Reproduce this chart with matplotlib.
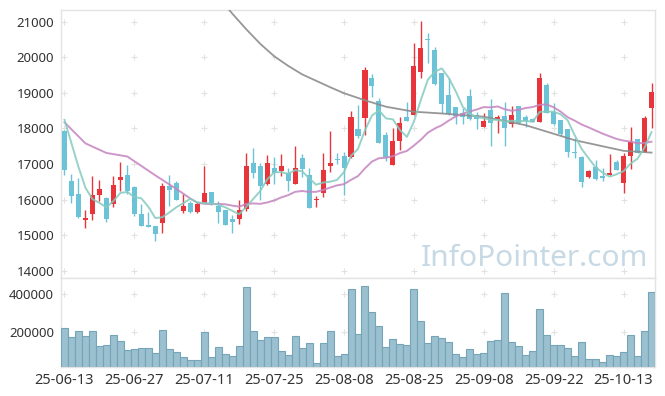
import matplotlib
matplotlib.use("Agg")
import matplotlib.pyplot as plt
import numpy as np
import pandas as pd

plt.rcParams['font.family'] = ['Noto Sans', 'DejaVu Sans']

# trading days (KRX holidays removed)
holidays = ['2025-08-15', '2025-10-03', '2025-10-06', '2025-10-07', '2025-10-08', '2025-10-09']
dates = pd.bdate_range('2025-06-13', '2025-10-17', freq='C', holidays=holidays)

opens = [17930, 16520, 16150, 15420, 15600, 16140, 16040, 15880, 16550, 16690,
         16350, 15590, 15290, 15260, 15350, 16380, 16470, 15680, 15910, 15660,
         15890, 16210, 15820, 15710, 15460, 15460, 15740, 17020, 16950, 16430,
         16880, 16810, 16760, 16430, 17170, 16690, 15990, 16190, 16950, 17140,
         17225, 17190, 17980, 18290, 19410, 18770, 17810, 16980, 17660, 18330,
         18380, 19590, 20510, 20200, 19550, 18940, 18590, 18430, 18910, 18380,
         18050, 18520, 18260, 18350, 18120, 18630, 18310, 18260, 18190, 19220,
         18470, 18240, 17980, 17340, 17190, 16630, 16910, 16640, 16690, 17070,
         16470, 17230, 17690, 17350, 18570]
highs = [17950, 16720, 16600, 15710, 16660, 16540, 16080, 16660, 17050, 16970,
         16380, 15880, 15640, 15260, 16470, 16690, 16520, 16150, 15960, 15930,
         16950, 16220, 15960, 15710, 15570, 15990, 17300, 17440, 17020, 17250,
         17190, 17270, 16900, 17510, 17280, 16880, 16100, 17300, 17930, 17300,
         17350, 18500, 18650, 19740, 19530, 18860, 17910, 18000, 18330, 18750,
         20410, 21020, 20670, 20300, 19560, 19410, 18600, 18570, 19110, 18470,
         18420, 18820, 18380, 18750, 18640, 18640, 18380, 18280, 19550, 19290,
         18710, 18250, 17990, 17720, 17230, 16840, 17110, 16900, 17270, 17110,
         17300, 18050, 17710, 18360, 19270]
lows = [16700, 15900, 15470, 15210, 15430, 15960, 15380, 15800, 16250, 16160,
        15540, 15260, 15220, 14840, 15050, 15830, 15980, 15610, 15610, 15610,
        15890, 15850, 15350, 15290, 15050, 15310, 15690, 16600, 15990, 16420,
        16430, 16660, 16240, 16430, 16640, 15760, 15780, 16080, 16770, 17000,
        16130, 17180, 17720, 17810, 18890, 17590, 17090, 16970, 17390, 18210,
        18370, 19430, 19850, 19230, 18420, 18390, 18120, 18120, 18250, 17980,
        18040, 17510, 17860, 17510, 18050, 18140, 18050, 18170, 18180, 18420,
        18110, 17800, 17190, 17160, 16340, 16610, 16560, 16520, 16680, 16820,
        16190, 16850, 17310, 17340, 18000]
closes = [16830, 16100, 15520, 15490, 16130, 16300, 15460, 16410, 16640, 16250,
          15600, 15270, 15230, 15040, 16380, 16270, 15990, 15820, 15650, 15875,
          16190, 15910, 15650, 15290, 15380, 15710, 16940, 16760, 16390, 17020,
          16740, 16940, 16530, 16900, 16870, 15770, 16020, 16830, 17020, 17120,
          16880, 18310, 17790, 19640, 19190, 17600, 17190, 17650, 18140, 18220,
          19760, 20250, 20490, 19240, 18700, 18400, 18360, 18330, 18260, 18260,
          18210, 18160, 18310, 18020, 18380, 18140, 18210, 18180, 19410, 18430,
          18120, 17840, 17350, 17320, 16490, 16800, 16570, 16620, 16740, 16830,
          17230, 17630, 17320, 18280, 19030]
volumes = [219600, 171900, 203700, 177200, 203700, 124100, 129400, 182500, 152300, 104500,
           108200, 113500, 113500, 87000, 209000, 108200, 92300, 65800, 51500, 51500,
           198400, 65800, 118800, 81700, 71100, 124100, 437100, 203700, 156000, 171900,
           171900, 97600, 76400, 177200, 113500, 140000, 34000, 140000, 203700, 71100,
           81700, 426500, 187800, 442400, 304500, 230200, 118800, 161300, 134700, 129400,
           426500, 256800, 140000, 177200, 166600, 145400, 81700, 65800, 108200, 81700,
           87000, 150700, 156000, 405300, 145400, 124100, 76400, 97600, 320400, 182500,
           129400, 129400, 113500, 71100, 145400, 55200, 55200, 39300, 76400, 71100,
           92300, 182500, 71100, 203700, 410600]

# moving-average values before the window is full
ma5_head = [18240, 17580, 16920, 16330]
ma20_head_idx = [0, 3, 6, 9, 13, 16, 18]
ma20_head = [18170, 17580, 17310, 17210, 16680, 16300, 16030]
# long moving average (grey)
ma_long_idx = [20, 22, 24, 26, 28, 30, 32, 34, 36, 38, 40, 43, 46, 50, 54, 60, 66, 73, 80, 84]
ma_long = [22200, 21700, 21230, 20790, 20380, 20030, 19760, 19520, 19340, 19160,
           18990, 18790, 18610, 18470, 18420, 18330, 18090, 17670, 17370, 17320]

UP = '#e8353b'
DOWN = '#6cc3d8'

x = np.arange(len(closes))
o = np.array(opens)
c = np.array(closes)
h = np.array(highs)
l = np.array(lows)

fig = plt.figure(figsize=(6.65, 3.96), dpi=100)
ax = fig.add_axes([61 / 665, 1 - 278 / 396, 594 / 665, 268 / 396])
axv = fig.add_axes([61 / 665, 1 - 367 / 396, 594 / 665, 89 / 396], sharex=ax)

# candles
cols = np.where(c >= o, UP, DOWN)
ax.vlines(x, l, h, colors=cols, linewidth=1, zorder=3)
body = np.maximum(np.abs(c - o), 30)
ax.bar(x, body, bottom=np.minimum(o, c), width=0.72, color=cols, linewidth=0, zorder=4)

# moving averages
cs = pd.Series(closes, dtype=float)
ma5 = cs.rolling(5).mean().values
ma5[:4] = ma5_head
ma20 = cs.rolling(20).mean()
ma20_x = list(ma20_head_idx) + list(range(19, len(closes)))
ma20_y = list(ma20_head) + list(ma20.values[19:])
ax.plot(ma_long_idx, ma_long, color='#8c8c8c', linewidth=1.3, alpha=0.9, zorder=5)
ax.plot(ma20_x, ma20_y, color='#c584c0', linewidth=1.4, alpha=0.85, zorder=5)
ax.plot(x, ma5, color='#84cbbf', linewidth=1.4, alpha=0.85, zorder=6)

# volume
axv.bar(x, volumes, width=1.0, color='#9bc0d0', edgecolor='#76a5ba', linewidth=0.8, zorder=3)

ax.set_xlim(-0.5, len(closes) - 0.5)
ax.set_ylim(13795, 21329)
axv.set_ylim(14300, 486500)

price_ticks = list(range(14000, 21001, 1000))
vol_ticks = [200000, 400000]
tick_idx = list(range(0, len(closes), 10))
tick_labels = [d.strftime('%y-%m-%d') for d in dates[tick_idx]]

ax.set_yticks(price_ticks)
ax.set_yticklabels([str(v) for v in price_ticks])
axv.set_yticks(vol_ticks)
axv.set_yticklabels([str(v) for v in vol_ticks])
axv.set_xticks(tick_idx)
axv.set_xticklabels(tick_labels)
ax.tick_params(axis='x', bottom=False, labelbottom=False)
ax.tick_params(axis='y', length=0, pad=5, labelsize=9.5, colors='#333333')
axv.tick_params(axis='y', length=0, pad=5, labelsize=9.5, colors='#333333')
axv.tick_params(axis='x', length=0, pad=4, labelsize=10.5, colors='#333333')

# faint "+" grid marks
gx, gy = np.meshgrid(tick_idx, price_ticks)
ax.plot(gx.ravel(), gy.ravel(), '+', color='#e2e2e2', markersize=4.5, mew=0.8, zorder=1)
gx, gy = np.meshgrid(tick_idx, vol_ticks)
axv.plot(gx.ravel(), gy.ravel(), '+', color='#e2e2e2', markersize=4.5, mew=0.8, zorder=1)

for a in (ax, axv):
    for s in a.spines.values():
        s.set_color('#e3e3e3')
        s.set_linewidth(1)

ax.text(0.988, 0.045, 'InfoPointer.com', transform=ax.transAxes, ha='right', va='baseline',
        fontsize=21.5, color='#c6d9e4', zorder=2)

fig.savefig('out.png', dpi=100, facecolor='white')
